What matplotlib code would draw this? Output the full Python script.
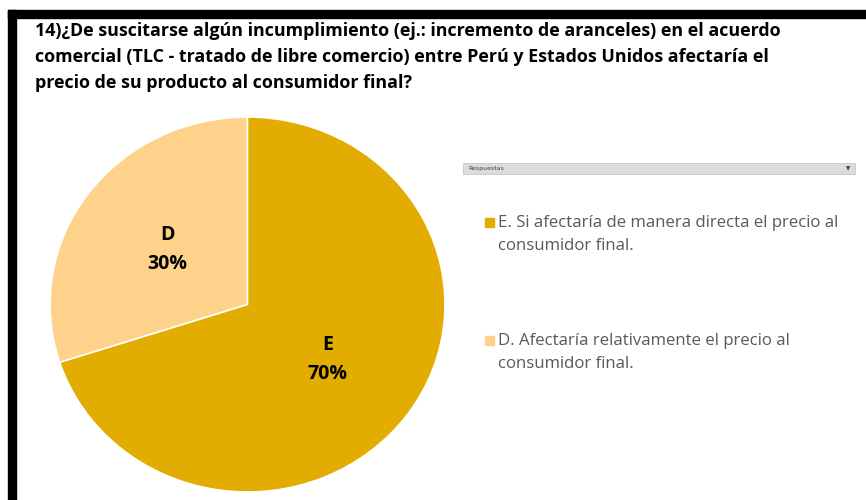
import matplotlib
matplotlib.use("Agg")
import matplotlib.pyplot as plt
from matplotlib.patches import Rectangle

# --- Datos ---
categorias = ["D", "E"]
porcentajes = [30, 70]
leyenda = [
    "E. Si afectaría de manera directa el precio al\nconsumidor final.",
    "D. Afectaría relativamente el precio al\nconsumidor final.",
]
colores_leyenda = ["#E2AC00", "#FED28A"]
COLORES = {"E": "#E2AC00", "D": "#FED28A"}

titulo = ("14)¿De suscitarse algún incumplimiento (ej.: incremento de aranceles) en el acuerdo\n"
          "comercial (TLC - tratado de libre comercio) entre Perú y Estados Unidos afectaría el\n"
          "precio de su producto al consumidor final?")

W, H = 866, 500
fig = plt.figure(figsize=(W / 100, H / 100), dpi=100)
fig.patch.set_facecolor("white")

# marco negro (arriba e izquierda)
fig.patches.append(Rectangle((8 / W, 1 - 18 / H), 1 - 8 / W, 8 / H,
                             transform=fig.transFigure, color="black", zorder=5))
fig.patches.append(Rectangle((8 / W, 0), 8 / W, 1 - 10 / H,
                             transform=fig.transFigure, color="black", zorder=5))

fig.text(35 / W, 1 - 21.5 / H, titulo, ha="left", va="top", fontsize=12.9,
         fontweight="bold", family="Open Sans", color="black", linespacing=1.58)

# --- Pie (ligeramente elíptico, como en el original) ---
ax = fig.add_axes([50 / W, 8 / H, 395 / W, 375 / H])
wedges, _, autotexts = ax.pie(
    porcentajes, colors=[COLORES[c] for c in categorias], startangle=90,
    counterclock=True, autopct="%d%%", pctdistance=0.5,
    wedgeprops=dict(edgecolor="white", linewidth=1.2),
    textprops=dict(fontsize=14, fontweight="bold", family="Open Sans", color="black"),
)
for t, cat, p in zip(autotexts, categorias, porcentajes):
    t.set_text(f"{cat}\n{p}%")
    t.set_linespacing(1.55)
ax.set_aspect("auto")
ax.set_xlim(-1, 1)
ax.set_ylim(-1, 1)

# --- Botón de campo "Respuestas" ---
fig.patches.append(Rectangle((463 / W, 1 - 174 / H), 392 / W, 11 / H,
                             transform=fig.transFigure, facecolor="#DCDCDC",
                             edgecolor="#C8C8C8", linewidth=0.6))
fig.text(468 / W, 1 - 168.5 / H, "Respuestas", fontsize=4.5, color="#404040",
         ha="left", va="center")
fig.text(848 / W, 1 - 168.5 / H, "▼", fontsize=4, color="#404040",
         ha="center", va="center")

# --- Leyenda ---
for i, (lab, col) in enumerate(zip(leyenda, colores_leyenda)):
    y0 = 222 + i * 118
    fig.patches.append(Rectangle((485 / W, 1 - (y0 + 4.5) / H), 9 / W, 9 / H,
                                 transform=fig.transFigure, color=col))
    fig.text(498 / W, 1 - (y0 - 7) / H, lab, ha="left", va="top", fontsize=12.1,
             family="Open Sans", color="#595959", linespacing=1.6)

fig.savefig("out.png", dpi=100, facecolor="white")
